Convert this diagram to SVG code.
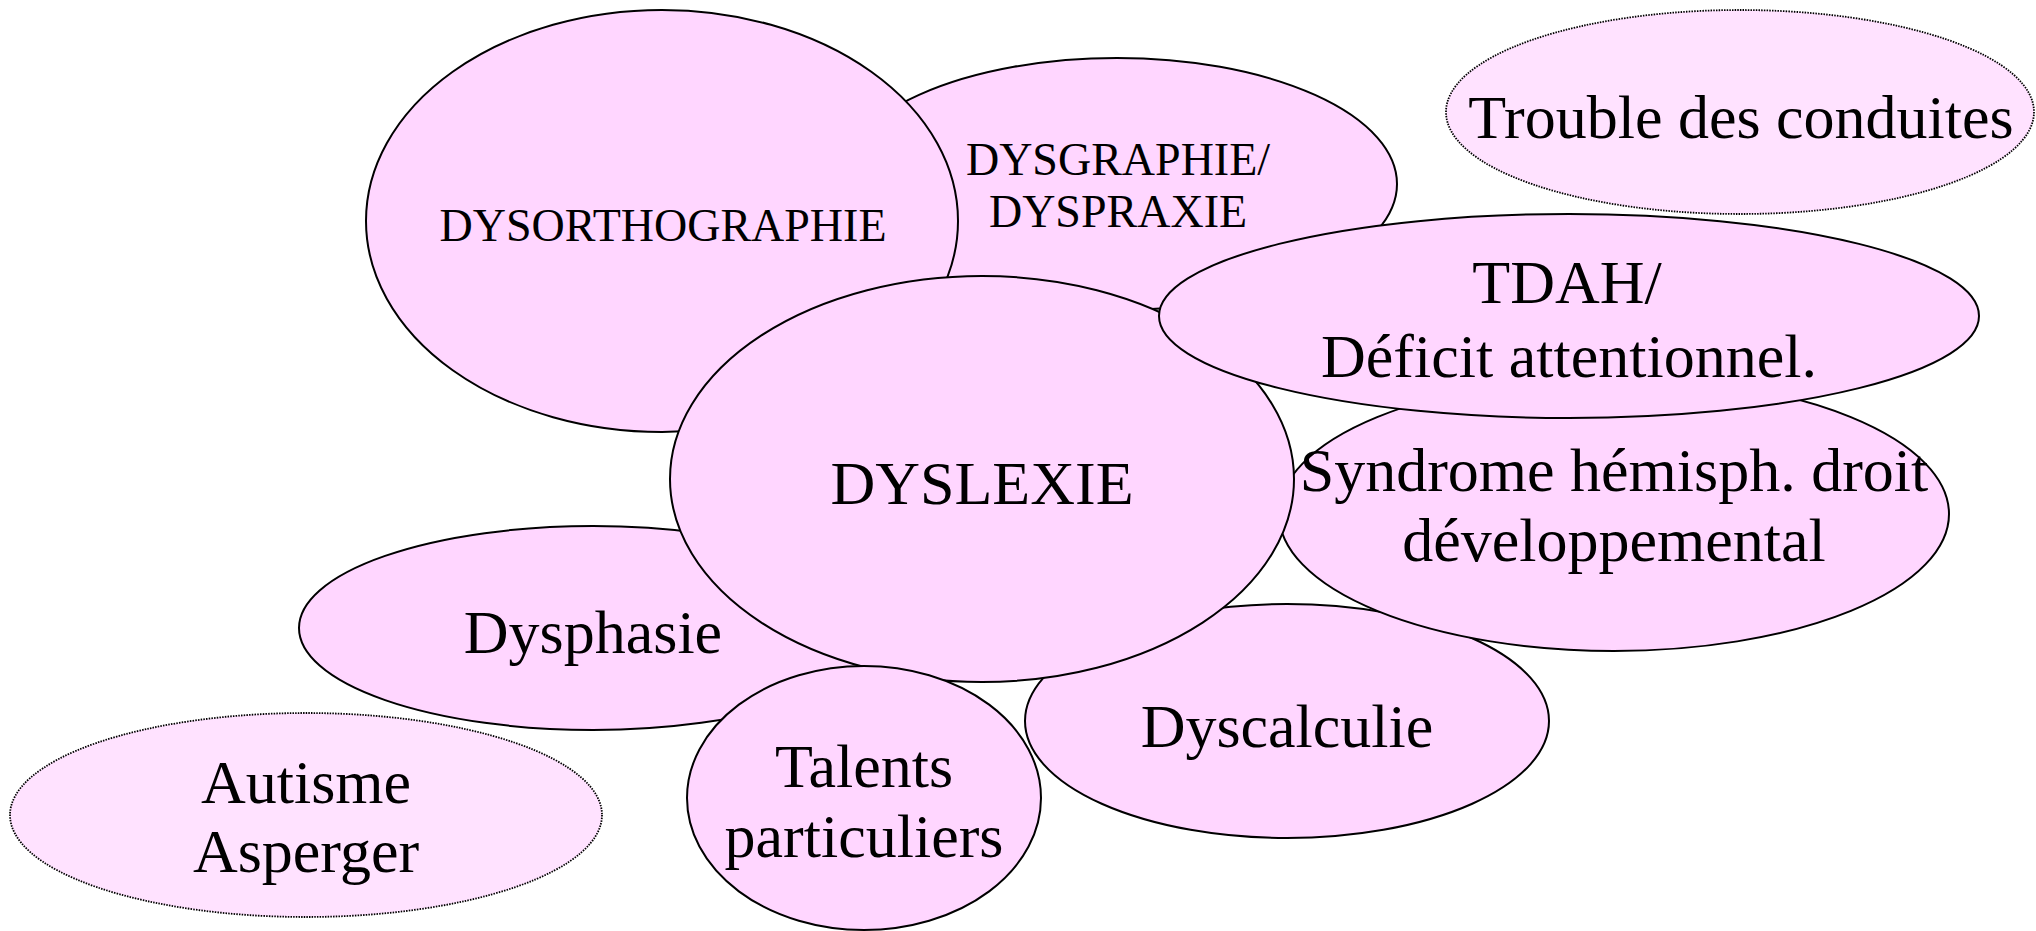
<svg xmlns="http://www.w3.org/2000/svg" width="2036" height="931" viewBox="0 0 2036 931">
<style>
.n{fill:#FFD6FF;stroke:#000;stroke-width:2}
.d{fill:#FFE2FF;stroke:#000;stroke-width:1.8;stroke-dasharray:1.5 1.2}
.t{font-family:"Liberation Serif","Times New Roman",serif;fill:#000;text-anchor:middle}
.s{font-size:46px}
.m{font-size:62px}
</style>
<rect width="2036" height="931" fill="#fff"/>
<g id="dysgraphie"><ellipse class="n" cx="1117" cy="184" rx="280" ry="126"/><text class="t s" x="1118" y="175">DYSGRAPHIE/</text><text class="t s" x="1118" y="227">DYSPRAXIE</text></g>
<g id="dysorthographie"><ellipse class="n" cx="662" cy="221" rx="296" ry="211"/><text class="t s" x="663" y="241">DYSORTHOGRAPHIE</text></g>
<g id="dysphasie"><ellipse class="n" cx="593" cy="628" rx="294" ry="102"/><text class="t m" x="593" y="653">Dysphasie</text></g>
<g id="dyscalculie"><ellipse class="n" cx="1287" cy="721" rx="262" ry="117"/><text class="t m" x="1287" y="747">Dyscalculie</text></g>
<g id="syndrome"><ellipse class="n" cx="1614" cy="514" rx="335" ry="137"/><text class="t m" x="1614" y="491">Syndrome hémisph. droit</text><text class="t m" x="1614" y="561">développemental</text></g>
<g id="dyslexie"><ellipse class="n" cx="982" cy="479" rx="312" ry="203"/><text class="t" style="font-size:62px" x="982" y="504">DYSLEXIE</text></g>
<g id="tdah"><ellipse class="n" cx="1569" cy="316" rx="410" ry="102"/><text class="t m" x="1567" y="303">TDAH/</text><text class="t m" x="1569" y="377">Déficit attentionnel.</text></g>
<g id="talents"><ellipse class="n" cx="864" cy="798" rx="177" ry="132"/><text class="t m" x="864" y="787">Talents</text><text class="t m" x="864" y="857">particuliers</text></g>
<g id="trouble"><ellipse class="d" cx="1740" cy="112" rx="294" ry="102"/><text class="t m" x="1741" y="138">Trouble des conduites</text></g>
<g id="autisme"><ellipse class="d" cx="306" cy="815" rx="296" ry="102"/><text class="t m" x="306" y="803">Autisme</text><text class="t m" x="306" y="872">Asperger</text></g>
<g id="connectors"></g>
</svg>
